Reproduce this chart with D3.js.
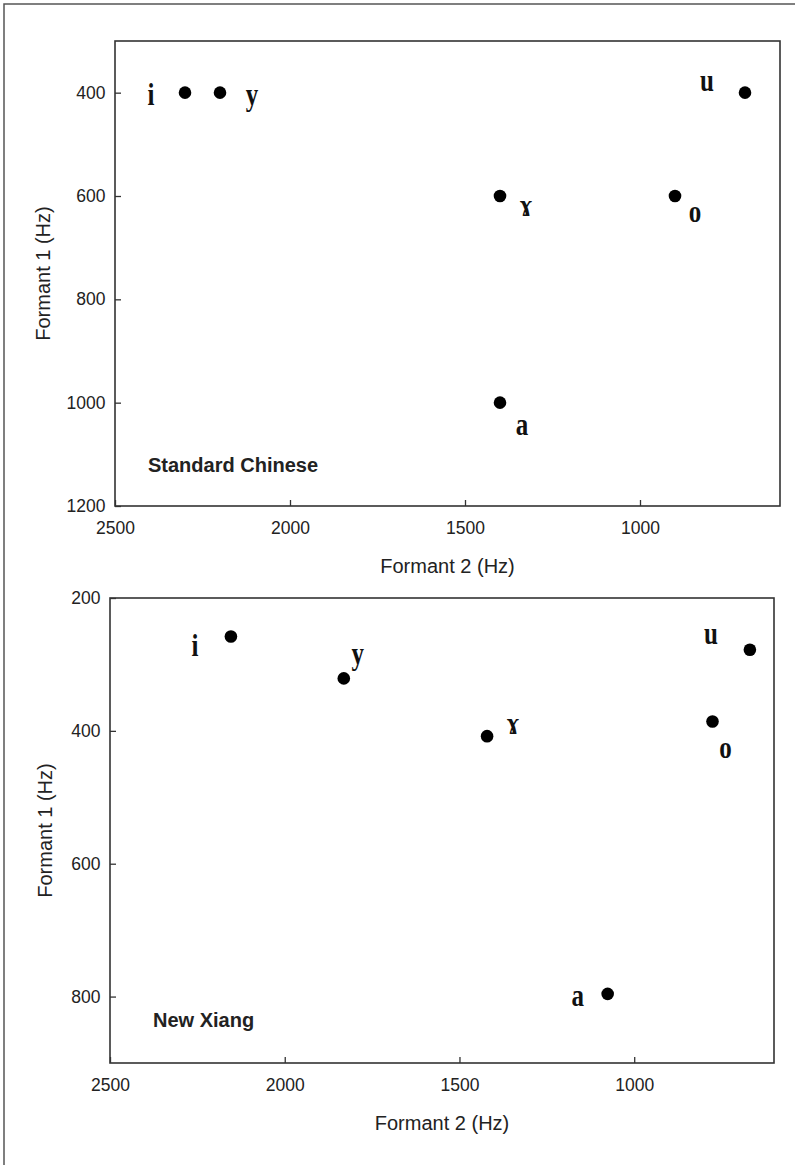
<!DOCTYPE html>
<html>
<head>
<meta charset="utf-8">
<script src="https://cdn.jsdelivr.net/npm/d3@7"></script>
<style>
  html, body { margin: 0; padding: 0; background: #fff; }
  svg { display: block; }
</style>
</head>
<body>
<script>
// Vowel formant values (Hz) for the two varieties
const vowels = ["i", "y", "ɤ", "u", "o", "a"];
const standardF2 = [2300, 2200, 1400, 700, 900, 1400];
const standardF1 = [400, 400, 600, 400, 600, 1000];
const xiangF2 = [2154, 1831, 1421, 669, 776, 1076];
const xiangF1 = [258, 321, 408, 278, 386, 796];

// Axis ticks
const f2Ticks = [2500, 2000, 1500, 1000];
const standardF1Ticks = [400, 600, 800, 1000, 1200];
const xiangF1Ticks = [200, 400, 600, 800];

// Label placement relative to each point (px): [dx, dy]
const standardLabelOffsets = [[-34, 12], [32, 12], [26, 20], [-38, -2], [20, 26], [22, 32]];
const xiangLabelOffsets = [[-36, 19], [14, -14], [26, -2], [-39, -6], [13, 36], [-30, 12]];

const W = 795, H = 1165;
const svg = d3.select("body").append("svg").attr("width", W).attr("height", H);

// outer page frame (left and top edges visible)
svg.append("path")
  .attr("d", `M4,${H + 5} V4 H${W + 5}`)
  .attr("fill", "none").attr("stroke", "#555").attr("stroke-width", 1.5);

function panel(cfg) {
  const { left, right, top, bottom, f1Domain, f1Ticks, f2, f1, offsets, title, titleX, titleY, yTitleX } = cfg;
  const x = d3.scaleLinear().domain([2500, 600]).range([left, right]);
  const y = d3.scaleLinear().domain(f1Domain).range([top, bottom]);
  const g = svg.append("g");

  const tickFont = "'Liberation Sans', Arial, sans-serif";

  const xAxis = g.append("g")
    .attr("transform", `translate(0,${bottom})`)
    .call(d3.axisBottom(x).tickValues(f2Ticks).tickSize(-6).tickPadding(15.5).tickFormat(d3.format("d")));
  const yAxis = g.append("g")
    .attr("transform", `translate(${left},0)`)
    .call(d3.axisLeft(y).tickValues(f1Ticks).tickSize(-6).tickPadding(9.5).tickFormat(d3.format("d")));
  [xAxis, yAxis].forEach(a => {
    a.select(".domain").remove();
    a.selectAll(".tick line").attr("stroke", "#333").attr("stroke-width", 1.3);
    a.selectAll(".tick text").attr("fill", "#222")
      .style("font-family", tickFont).style("font-size", "17.5px");
  });

  // plot frame
  g.append("rect")
    .attr("x", left).attr("y", top)
    .attr("width", right - left).attr("height", bottom - top)
    .attr("fill", "none").attr("stroke", "#333").attr("stroke-width", 1.6);

  // axis titles
  g.append("text")
    .attr("x", (left + right) / 2).attr("y", bottom + 67)
    .attr("text-anchor", "middle").attr("fill", "#222")
    .style("font-family", tickFont).style("font-size", "20px")
    .text("Formant 2 (Hz)");
  g.append("text")
    .attr("transform", `translate(${yTitleX},${(top + bottom) / 2}) rotate(-90)`)
    .attr("text-anchor", "middle").attr("fill", "#222")
    .style("font-family", tickFont).style("font-size", "20px")
    .text("Formant 1 (Hz)");

  // panel name
  g.append("text")
    .attr("x", titleX).attr("y", titleY)
    .attr("fill", "#222")
    .style("font-family", tickFont).style("font-size", "20px").style("font-weight", "bold")
    .text(title);

  const pts = vowels.map((v, i) => ({ v, f2: f2[i], f1: f1[i], off: offsets[i] }));

  g.selectAll("circle.pt").data(pts).join("circle")
    .attr("class", "pt")
    .attr("cx", d => x(d.f2)).attr("cy", d => y(d.f1))
    .attr("r", 6.3).attr("fill", "#000");

  g.selectAll("text.vowel").data(pts).join("text")
    .attr("class", "vowel")
    .attr("transform", d => `translate(${x(d.f2) + d.off[0]},${y(d.f1) + d.off[1]}) scale(1,1.3)`)
    .attr("text-anchor", "middle").attr("fill", "#111")
    .style("font-family", "'Liberation Serif', 'Times New Roman', 'DejaVu Serif', serif")
    .style("font-size", "25px").style("font-weight", "bold")
    .text(d => d.v);
}

panel({
  left: 115, right: 780, top: 41, bottom: 506,
  f1Domain: [300, 1200], f1Ticks: standardF1Ticks,
  f2: standardF2, f1: standardF1, offsets: standardLabelOffsets,
  title: "Standard Chinese", titleX: 148, titleY: 472, yTitleX: 50
});

panel({
  left: 110, right: 774, top: 598, bottom: 1063,
  f1Domain: [200, 900], f1Ticks: xiangF1Ticks,
  f2: xiangF2, f1: xiangF1, offsets: xiangLabelOffsets,
  title: "New Xiang", titleX: 153, titleY: 1027, yTitleX: 52
});
</script>
</body>
</html>
